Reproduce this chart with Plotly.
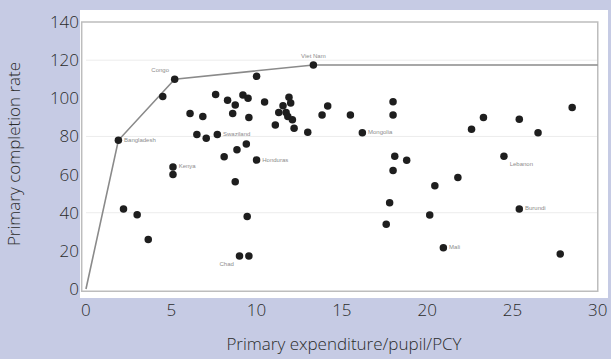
import plotly.graph_objects as go

# Data
spend = [1.9, 4.5, 5.2, 2.2, 3.0, 3.65, 5.1, 5.1, 6.1, 6.85, 6.5, 7.05, 7.7, 7.6, 8.3,
         8.75, 8.6, 9.2, 9.5, 9.55, 10.0, 10.47, 9.4, 8.85, 8.1, 10.0, 8.75, 9.45, 9.0,
         9.55, 11.9, 12.0, 11.55, 11.73, 11.3, 11.83, 12.1, 11.1, 12.2, 13.0, 13.84,
         14.17, 13.33, 15.5, 16.2, 18.0, 18.0, 18.1, 18.8, 18.0, 17.8, 17.6, 20.15,
         20.45, 21.8, 20.95, 22.6, 23.3, 25.4, 26.5, 28.5, 24.5, 25.4, 27.8]
completion = [78, 101, 110, 42, 39, 26, 64, 60, 92, 90.5, 81, 79, 81, 102, 99,
              96.5, 92, 101.7, 100, 90, 111.5, 98, 76, 73, 69.3, 67.6, 56.3, 38, 17.3,
              17.3, 100.6, 97.5, 96.1, 92.6, 92.6, 90.5, 88.7, 86, 84.3, 82.2, 91.2,
              96, 117.5, 91.2, 82, 98.2, 91.2, 69.6, 67.5, 62.2, 45.3, 34, 38.8,
              54.2, 58.5, 21.7, 83.8, 90, 89, 82, 95.2, 69.6, 42, 18.4]
names = ["Bangladesh", "", "Congo", "", "", "", "Kenya", "", "", "", "", "", "Swaziland", "", "",
         "", "", "", "", "", "", "", "", "", "", "Honduras", "", "", "Chad",
         "", "", "", "", "", "", "", "", "", "", "", "",
         "", "Viet Nam", "", "Mongolia", "", "", "", "", "", "", "", "",
         "", "", "Mali", "", "", "", "", "", "Lebanon", "Burundi", ""]
label_pos = ["middle right", "middle right", "top left", "middle right", "middle right", "middle right",
             "middle right", "middle right", "middle right", "middle right", "middle right", "middle right",
             "middle right", "middle right", "middle right", "middle right", "middle right", "middle right",
             "middle right", "middle right", "middle right", "middle right", "middle right", "middle right",
             "middle right", "middle right", "middle right", "middle right", "bottom left", "middle right",
             "middle right", "middle right", "middle right", "middle right", "middle right", "middle right",
             "middle right", "middle right", "middle right", "middle right", "middle right", "middle right",
             "top center", "middle right", "middle right", "middle right", "middle right", "middle right",
             "middle right", "middle right", "middle right", "middle right", "middle right", "middle right",
             "middle right", "middle right", "middle right", "middle right", "middle right", "middle right",
             "middle right", "bottom right", "middle right", "middle right"]

frontier_x = [0, 1.9, 5.2, 13.33, 30]
frontier_y = [0, 78, 110, 117.5, 117.5]

grid_levels = [40, 80, 120]
x_ticks = [0, 5, 10, 15, 20, 25, 30]
y_ticks = [0, 20, 40, 60, 80, 100, 120, 140]

BG = "#c6cbe4"
TXT = "#2b2b2b"
FONT = dict(family="Open Sans", size=17, color=TXT, weight=300)

fig = go.Figure()

fig.add_trace(go.Scatter(x=frontier_x, y=frontier_y, mode="lines",
                         line=dict(color="#8a8a8a", width=1.6), hoverinfo="skip"))

fig.add_trace(go.Scatter(x=spend, y=completion, mode="markers+text",
                         text=names, textposition=label_pos,
                         textfont=dict(size=6, color="#8c8c8c", family="Liberation Sans"),
                         marker=dict(symbol="circle", size=7.5, color="#1e1e1e",
                                     line=dict(width=0))))

shapes = []
for g in grid_levels:
    shapes.append(dict(type="line", xref="x", yref="y", x0=0, x1=30, y0=g, y1=g,
                       line=dict(color="#ececec", width=1), layer="below"))
shapes.append(dict(type="rect", xref="x", yref="y", x0=-0.25, x1=30, y0=-1.2, y1=140,
                   line=dict(color="#bdbdbd", width=1.5), layer="below"))

fig.update_layout(
    width=611, height=359,
    margin=dict(l=80, r=3, t=10, b=61),
    paper_bgcolor=BG,
    plot_bgcolor="#ffffff",
    showlegend=False,
    shapes=shapes,
    font=FONT,
    xaxis=dict(range=[-0.35, 30.6], tickvals=x_ticks, showgrid=False, zeroline=False,
               showline=False, ticks="", automargin=False,
               tickfont=FONT,
               title=dict(text="Primary expenditure/pupil/PCY", standoff=18, font=FONT)),
    yaxis=dict(range=[-4.7, 146.3], tickvals=y_ticks, showgrid=False, zeroline=False,
               showline=False, ticks="", automargin=False,
               tickfont=FONT,
               title=dict(text="Primary completion rate", standoff=24, font=FONT)),
)

fig.write_html("out.html", config={"displayModeBar": False},
               post_script="document.body.style.margin='0';document.body.style.background='" + BG + "';")
